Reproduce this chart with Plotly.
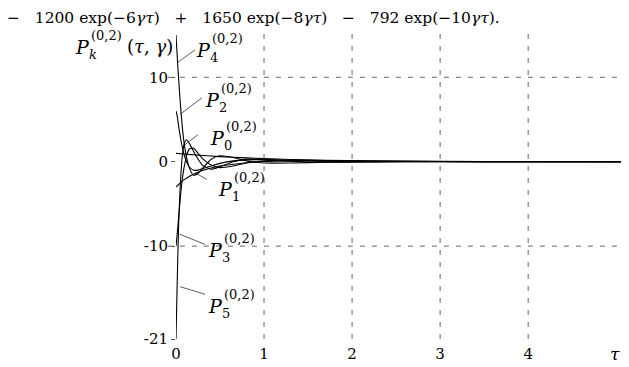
import plotly.graph_objects as go

# tau grid and curve values
tau = [0, 0.01, 0.02, 0.03, 0.05, 0.07, 0.09, 0.12, 0.15, 0.2, 0.25, 0.3,
       0.4, 0.5, 0.65, 0.8, 1.0, 1.3, 1.7, 2.2, 3, 4, 5.1]

p0 = [1.0, 0.99, 0.98, 0.97, 0.95, 0.93, 0.91, 0.89, 0.86, 0.82, 0.78, 0.74,
      0.67, 0.6, 0.52, 0.45, 0.37, 0.27, 0.18, 0.11, 0.05, 0.02, 0.0]
p1 = [-3.0, -2.9, -2.8, -2.7, -2.5, -2.3, -2.15, -1.95, -1.75, -1.5, -1.25, -1.05,
      -0.75, -0.5, -0.3, -0.12, 0.02, 0.1, 0.1, 0.06, 0.02, 0.005, 0.0]
p2 = [6.0, 5.6, 5.0, 4.2, 2.9, 1.8, 0.9, 0.0, -0.6, -1.0, -1.0, -0.85,
      -0.5, -0.2, 0.1, 0.22, 0.25, 0.18, 0.1, 0.05, 0.02, 0.0, 0.0]
p3 = [-10.0, -9.0, -7.8, -6.6, -4.2, -2.2, -0.8, 0.7, 1.5, 1.6, 1.0, 0.4,
      -0.4, -0.7, -0.5, -0.15, 0.12, 0.18, 0.1, 0.05, 0.02, 0.0, 0.0]
p4 = [15.0, 13.2, 11.4, 9.8, 6.8, 4.3, 2.4, 0.5, -0.7, -1.6, -1.4, -0.8,
      0.3, 0.7, 0.5, 0.1, -0.15, -0.15, -0.06, -0.02, 0.0, 0.0, 0.0]
p5 = [-21.0, -16.0, -11.5, -7.5, -2.5, 0.5, 2.0, 2.6, 2.2, 1.2, 0.3, -0.4,
      -0.9, -0.6, 0.0, 0.3, 0.25, 0.05, -0.05, -0.03, 0.0, 0.0, 0.0]

curves = [p0, p1, p2, p3, p4, p5]
x_ticks = [0, 1, 2, 3, 4]
y_ticks = [-21, -10, 0, 10]
y_labels = ["-21", "-10", "0", "10"]

SERIF = "DejaVu Serif"

# the page body adds 8px around the figure, so work in shifted pixels
OFF = 8
FW, FH = 629 - OFF, 367 - OFF
L, T, W, H = 176 - OFF, 30 - OFF, 449, 309.5


def px(x, y):
    """reference pixel position -> paper coords"""
    return (x - OFF - L) / W, (T + H - (y - OFF)) / H


fig = go.Figure()
for vals in curves:
    fig.add_trace(go.Scatter(x=tau, y=vals, mode="lines",
                             line=dict(color="black", width=1.1, shape="spline", smoothing=0.6),
                             showlegend=False, hoverinfo="skip"))

grid_line = dict(color="#666", width=1, dash="5px,7px")
shapes = []
for xv in x_ticks[1:]:
    shapes.append(dict(type="line", xref="x", yref="paper", x0=xv, x1=xv, y0=0, y1=1,
                       line=grid_line))
for yv in [10, -10]:
    shapes.append(dict(type="line", xref="paper", yref="y", x0=-0.018, x1=1, y0=yv, y1=yv,
                       line=grid_line))

# leader lines from labels to curves (tau, value)
leaders = [((0.216, 13.25), (0.023, 11.8)),
           ((0.295, 7.57), (0.045, 5.6)),
           ((0.25, 3.2), (0.10, 2.0)),
           ((0.35, -2.1), (0.216, -1.3)),
           ((0.33, -9.8), (0.045, -8.6)),
           ((0.33, -15.7), (0.045, -14.8))]
for (a, b) in leaders:
    shapes.append(dict(type="line", xref="x", yref="y", x0=a[0], y0=a[1], x1=b[0], y1=b[1],
                       line=dict(color="#333", width=0.8)))

ann = []


def txt(x, y, s, size, anchor="center"):
    xp, yp = px(x, y)
    ann.append(dict(xref="paper", yref="paper", x=xp, y=yp, text=s, showarrow=False,
                    xanchor=anchor, yanchor="middle", font=dict(family=SERIF, size=size, color="black")))


def plabel(x, y, sub):
    txt(x, y, "<i>P</i>", 19)
    txt(x + 7, y - 11, "(0,2)", 13, "left")
    txt(x + 5, y + 8, sub, 13, "left")


plabel(203, 50, "4")
plabel(212, 100, "2")
plabel(217, 138, "0")
plabel(225, 189, "1")
plabel(215, 250, "3")
plabel(215, 306, "5")

# y axis title
plabel(82, 47, "<i>k</i>")
txt(125, 47, "(<i>τ</i>, <i>γ</i>)", 18, "left")

# tau label at end of x axis
txt(615, 355, "<i>τ</i>", 17)

# formula line above the plot, hung from the top edge of the figure
ann.append(dict(xref="paper", yref="paper", x=px(6, 0)[0], y=1 + T / H,
                text="−   1200 exp(−6<i>γτ</i>)   +   1650 exp(−8<i>γτ</i>)   −   792 exp(−10<i>γτ</i>).",
                showarrow=False, xanchor="left", yanchor="top", borderpad=0,
                font=dict(family=SERIF, size=15.5, color="black")))

fig.update_layout(
    width=FW, height=FH,
    margin=dict(l=L, r=FW - L - W, t=T, b=FH - T - H),
    paper_bgcolor="white", plot_bgcolor="white",
    shapes=shapes, annotations=ann,
    font=dict(family=SERIF, size=14, color="black"),
    xaxis=dict(range=[0, 5.1], tickvals=x_ticks, showgrid=False, zeroline=False,
               showline=False, ticks="", tickfont=dict(size=15), ticklabelstandoff=4),
    yaxis=dict(range=[-21, 15.6], tickvals=y_ticks, ticktext=y_labels,
               showgrid=False, zeroline=False, showline=False, ticks="outside",
               ticklen=4, tickcolor="#555", tickfont=dict(size=15)),
)

fig.write_html("out.html")
